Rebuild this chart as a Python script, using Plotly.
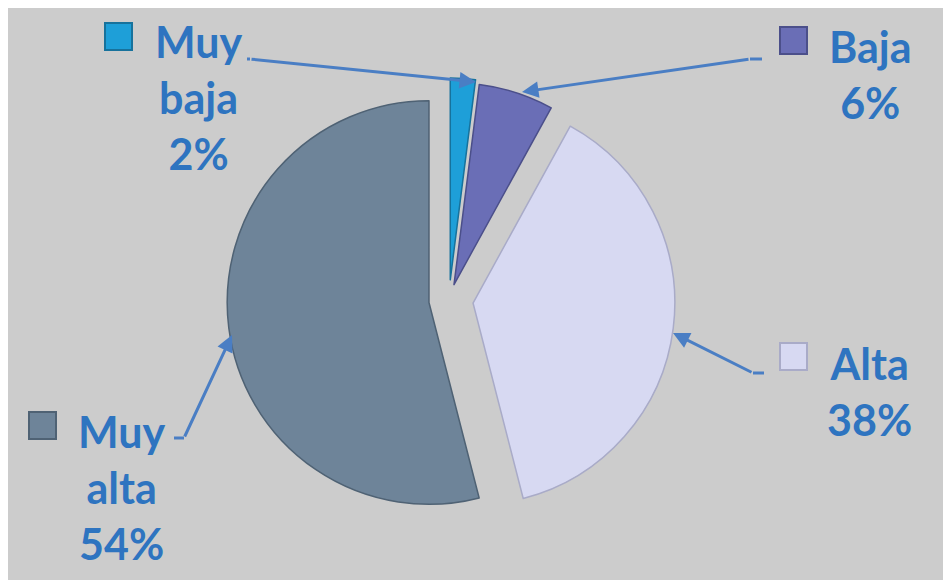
import plotly.graph_objects as go

W, H = 951, 580
# the page places the figure 8px from the top-left corner; positions below are page pixels
OFF = 8

categories = ["Muy baja", "Baja", "Alta", "Muy alta"]
values = [2, 6, 38, 54]
label_texts = ["Muy<br>baja<br>2%", "Baja<br>6%", "Alta<br>38%", "Muy<br>alta<br>54%"]
colors = ["#1E9FD8", "#6A6EB6", "#D7D9F2", "#6E8499"]
edge_colors = ["#17729C", "#4B4F8A", "#A9ABC8", "#4F6274"]
pulls = [0.1, 0.08, 0.12, 0.1]

def px(x):
    return (x - OFF) / W

def py(y):
    return 1 - (y - OFF) / H

cx, cy, half = 449, 300, 226
fig = go.Figure()
fig.add_trace(go.Pie(
    labels=categories,
    values=values,
    sort=False,
    direction="clockwise",
    rotation=0,
    pull=pulls,
    textinfo="none",
    hoverinfo="label+percent",
    marker=dict(colors=colors, line=dict(color=edge_colors, width=1.5)),
    domain=dict(x=[px(cx - half), px(cx + half)], y=[py(cy + half), py(cy - half)]),
    showlegend=False,
))

text_color = "#2E74C0"
line_color = "#4A7EC4"
font = dict(family="Lato, 'Open Sans', sans-serif", size=43, color=text_color, weight="bold")

# label block centres (page pixels)
label_pos = [(198, 98), (870, 74), (869, 391), (121, 487)]
# square markers (left, top) in page pixels
square_pos = [(105, 23), (780, 27), (780, 343), (29, 412)]
SQ = 27

annotations = []
shapes = []

for txt, (lx, ly), (sx, sy), c, ec in zip(label_texts, label_pos, square_pos, colors, edge_colors):
    annotations.append(dict(x=px(lx), y=py(ly), xref="paper", yref="paper", text=txt,
                            showarrow=False, xanchor="center", yanchor="middle",
                            align="center", font=font))
    shapes.append(dict(type="rect", xref="paper", yref="paper",
                       x0=px(sx), x1=px(sx + SQ), y0=py(sy + SQ), y1=py(sy),
                       fillcolor=c, line=dict(color=ec, width=2)))

# leader lines: (tip, diagonal start, elbow end)
leaders = [
    ((476, 82), (250, 59), (247, 59)),
    ((522, 92), (750, 59), (762, 59)),
    ((673, 333), (753, 373), (764, 373)),
    ((232, 335), (184, 438), (174, 438)),
]
for (tx, ty), (bx, by), (ex, ey) in leaders:
    annotations.append(dict(x=px(tx), y=py(ty), xref="paper", yref="paper", text="",
                            showarrow=True, ax=bx - tx, ay=by - ty,
                            arrowhead=2, arrowsize=1.1, arrowwidth=3, arrowcolor=line_color))
    shapes.append(dict(type="line", xref="paper", yref="paper",
                       x0=px(bx), y0=py(by), x1=px(ex), y1=py(ey),
                       line=dict(color=line_color, width=3)))

fig.update_layout(
    width=W, height=H,
    margin=dict(l=0, r=0, t=0, b=0),
    paper_bgcolor="#CCCCCC",
    plot_bgcolor="#CCCCCC",
    annotations=annotations,
    shapes=shapes,
)

fig.write_html("out.html")
